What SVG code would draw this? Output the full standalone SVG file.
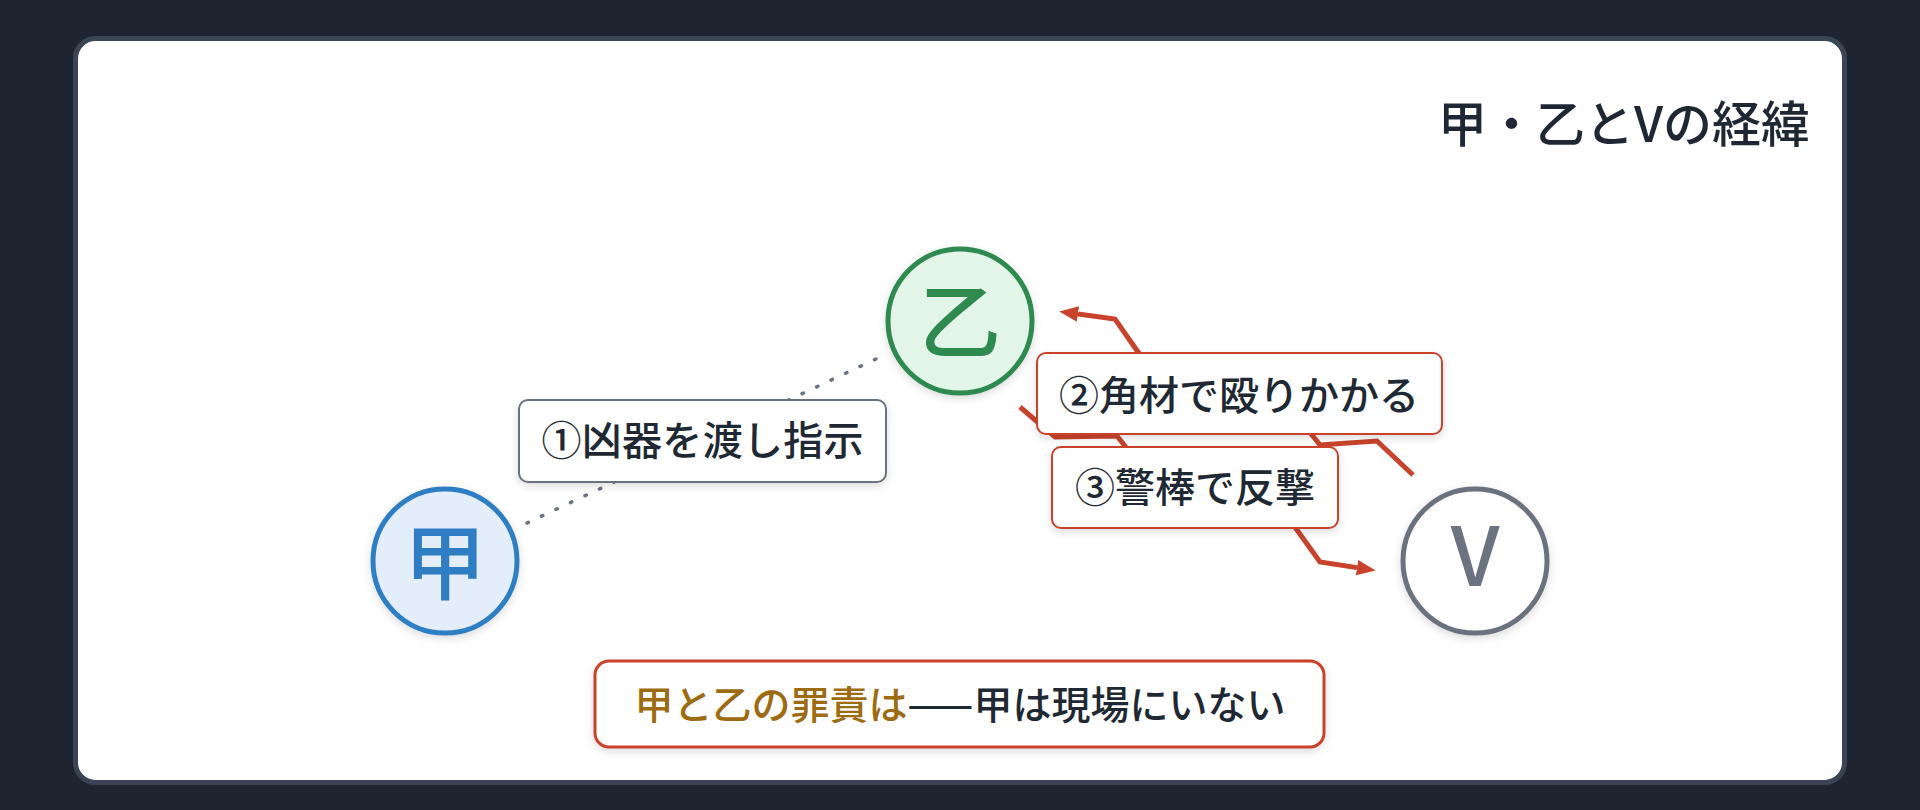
<svg xmlns="http://www.w3.org/2000/svg" width="1920" height="810" viewBox="0 0 1920 810">
  <style>
    .jp { font-family: "Noto Sans CJK JP", "Noto Sans", "Liberation Sans", sans-serif; }
    .lbl { font-size: 40px; font-weight: 500; fill: #1f2933; text-anchor: middle; }
    .node-t { font-size: 82px; font-weight: 500; text-anchor: middle; }
    .box { fill: #ffffff; stroke-width: 2; }
    .red { stroke: #c9432c; }
    .zig { fill: none; stroke: #c9432c; stroke-width: 5; stroke-linejoin: miter; stroke-linecap: butt; }
  </style>
  <defs>
    <filter id="sh" x="-20%" y="-20%" width="140%" height="150%">
      <feDropShadow dx="0" dy="3" stdDeviation="4" flood-color="#000000" flood-opacity="0.14"/>
    </filter>
    <marker id="ah" markerUnits="userSpaceOnUse" markerWidth="20" markerHeight="18" viewBox="0 -8 18 16" refX="0" refY="0" orient="auto">
      <path d="M0,-7 L17,0 L0,7 Z" fill="#c9432c"/>
    </marker>
  </defs>

  <rect x="0" y="0" width="1920" height="810" fill="#1e2430"/>
  <rect x="75.5" y="38.5" width="1769" height="744" rx="20" fill="#ffffff" stroke="#3b4452" stroke-width="5"/>

  <text class="jp" x="1810" y="142" font-size="49" font-weight="500" fill="#1e2733" text-anchor="end">甲・乙とVの経緯</text>

  <g id="connectors">
    <line x1="527" y1="523" x2="878" y2="358" stroke="#6b7280" stroke-width="3.5" stroke-dasharray="1.5 14.5" stroke-linecap="round"/>
    <path class="zig" d="M1413,475 L1377,441 L1320,445 L1284,400 L1171,400 L1138,352 L1115,319 L1078,314" marker-end="url(#ah)"/>
    <path class="zig" d="M1020,407 L1055,437 L1117,436 L1160,490 L1268,490 L1297,530 L1320,562 L1357,567.6" marker-end="url(#ah)"/>
  </g>

  <g id="node-kou">
    <circle cx="445" cy="561" r="72" fill="#e4eefa" stroke="#2f7ec4" stroke-width="5" filter="url(#sh)"/>
    <text class="jp node-t" x="445" y="593" fill="#2f7ec4">甲</text>
  </g>
  <g id="node-otsu">
    <circle cx="960" cy="321" r="72" fill="#e3f5e9" stroke="#2f8a50" stroke-width="5" filter="url(#sh)"/>
    <text class="jp node-t" x="960" y="352" fill="#2f8a50">乙</text>
  </g>
  <g id="node-v">
    <circle cx="1475" cy="561" r="72" fill="#ffffff" stroke="#6b7280" stroke-width="5" filter="url(#sh)"/>
    <text class="jp node-t" x="1475" y="586" fill="#6b7280">V</text>
  </g>

  <g id="label-1">
    <rect class="box" x="519" y="400" width="367" height="82" rx="9" stroke="#6b7280" filter="url(#sh)"/>
    <text class="jp lbl" x="702.5" y="454.5" textLength="322" lengthAdjust="spacing">①凶器を渡し指示</text>
  </g>
  <g id="label-2">
    <rect class="box red" x="1037" y="353" width="405" height="81" rx="9" filter="url(#sh)"/>
    <text class="jp lbl" x="1239" y="409.5">②角材で殴りかかる</text>
  </g>
  <g id="label-3">
    <rect class="box red" x="1052" y="447" width="286" height="81" rx="9" filter="url(#sh)"/>
    <text class="jp lbl" x="1195" y="501.5">③警棒で反撃</text>
  </g>

  <g id="banner">
    <rect x="595" y="661" width="729" height="86" rx="14" fill="#ffffff" stroke="#c9432c" stroke-width="3" filter="url(#sh)"/>
    <text class="jp" x="960" y="719" font-size="39" font-weight="500" text-anchor="middle" fill="#1f2933"><tspan fill="#9c6b12">甲と乙の罪責は</tspan>——甲は現場にいない</text>
  </g>
</svg>
